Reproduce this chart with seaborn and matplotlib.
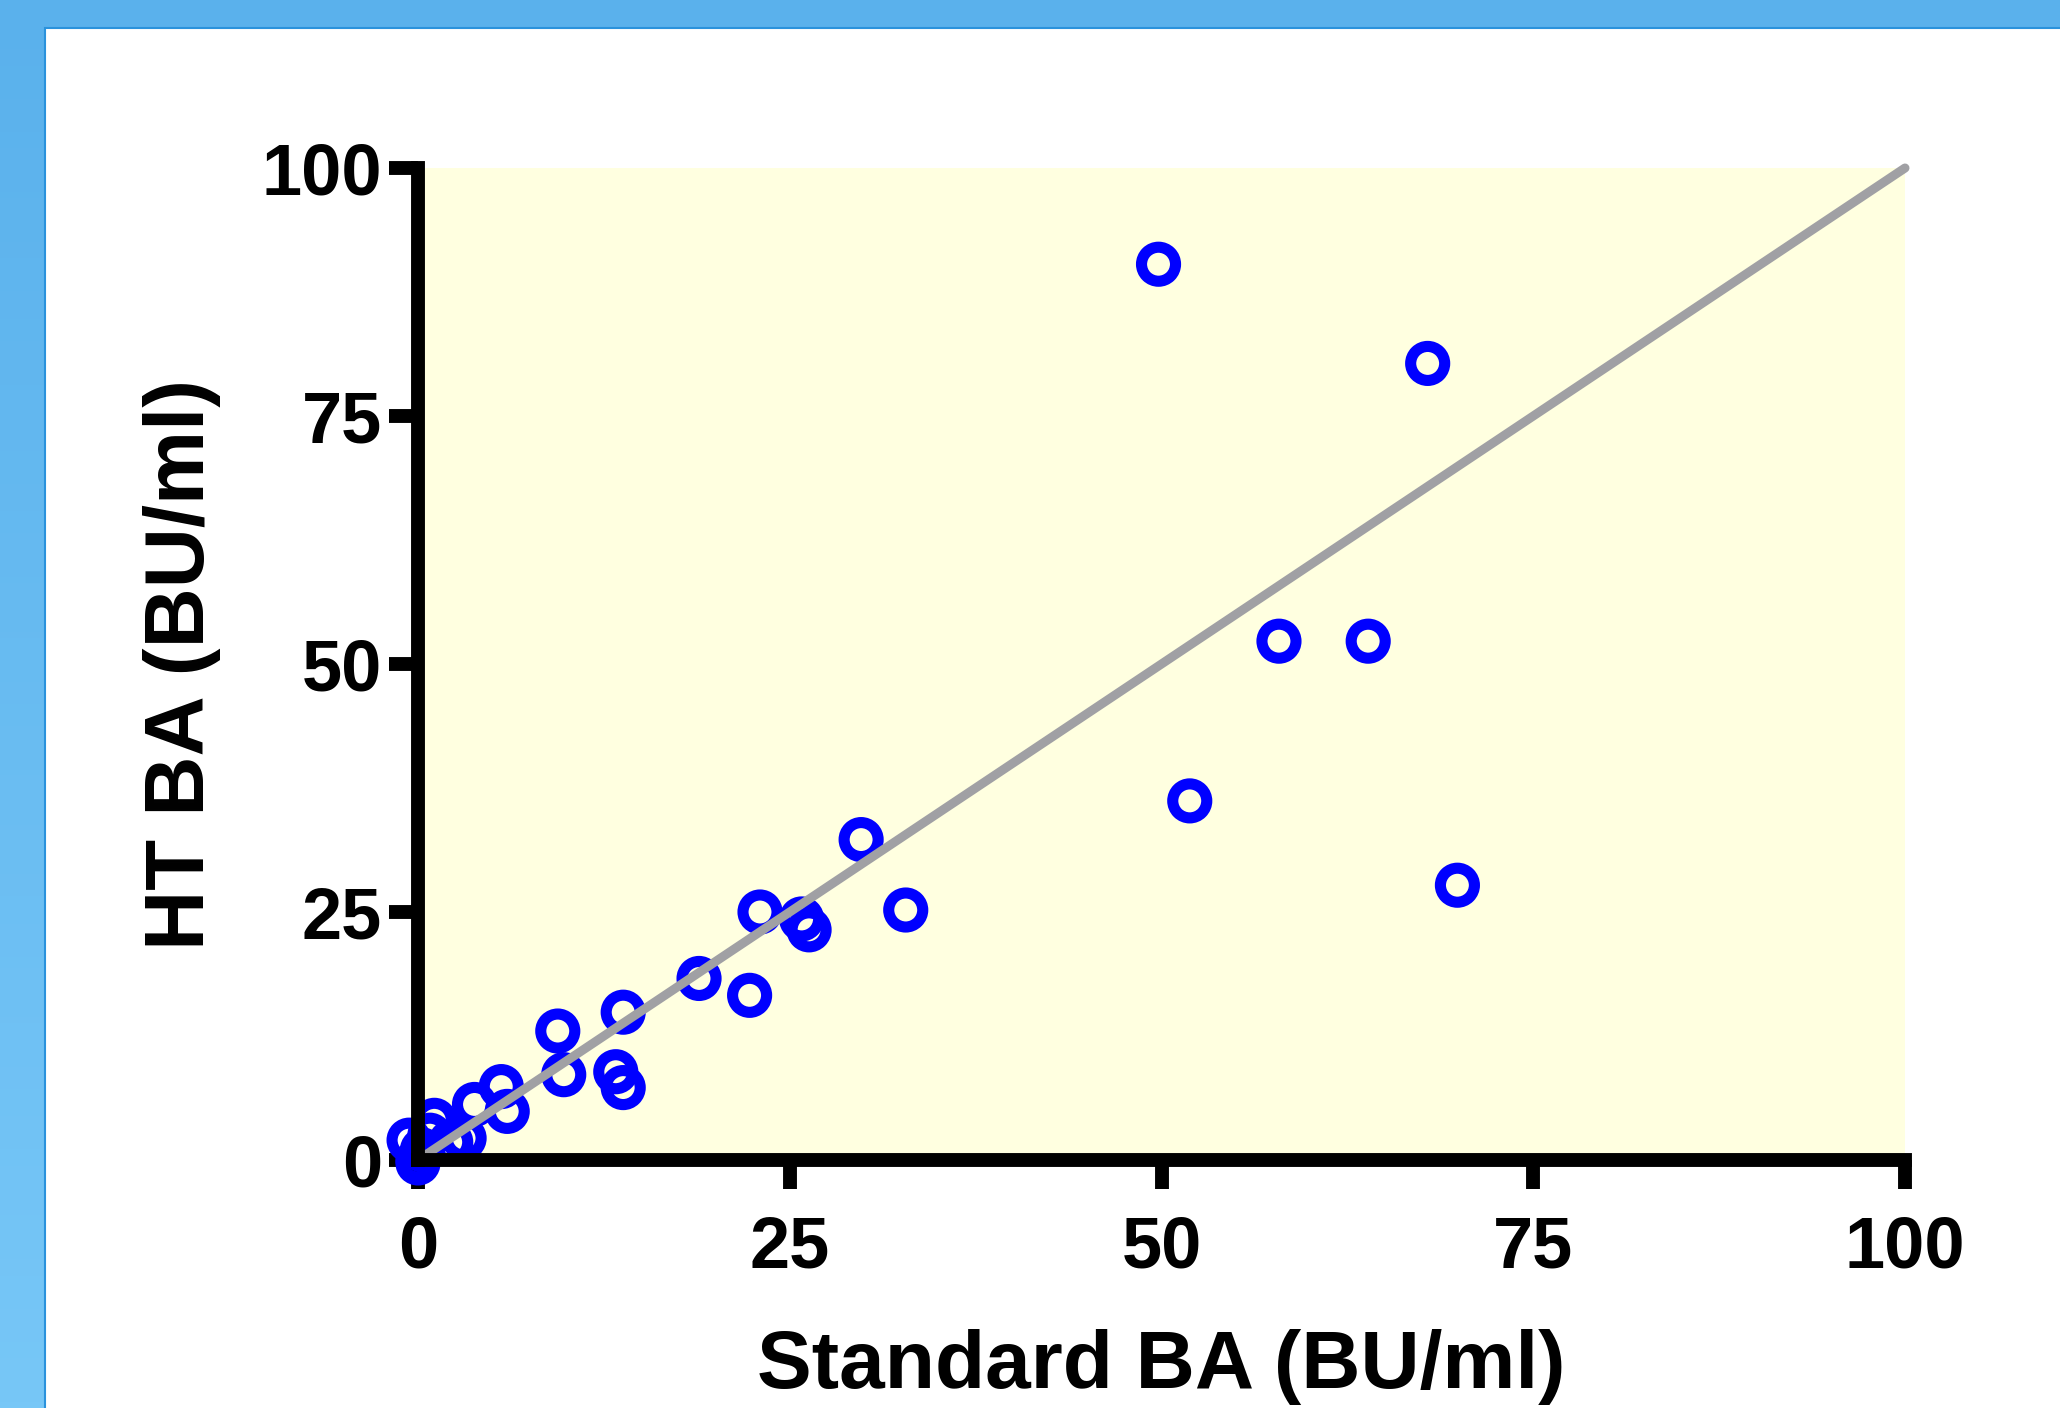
import numpy as np
import matplotlib
matplotlib.use("Agg")
import matplotlib.pyplot as plt
import matplotlib.patches as mpatches
import seaborn as sns

# standard vs HT BA
std_ba = [49.8, 67.9, 57.9, 63.9, 51.9, 69.9, 29.8, 32.8, 23.0, 25.8, 26.3,
          18.9, 22.3, 13.8, 9.4, 9.8, 13.3, 13.8, 5.6, 3.8, 6.0, 1.1, 3.1,
          2.2, -0.6, 0.0, 0.0, 0.3, 0.8]
ht_ba = [90.3, 80.3, 52.3, 52.3, 36.2, 27.7, 32.3, 25.2, 25.0, 24.3, 23.2,
         18.3, 16.6, 14.9, 13.0, 8.6, 8.9, 7.3, 7.4, 5.6, 4.9, 4.0, 2.2,
         1.8, 2.0, 0.0, -0.3, 1.0, 2.5]
line_x = [0, 100]
line_y = [0, 100]
ticks = [0, 25, 50, 75, 100]

sns.set_style("ticks")
plt.rcParams['font.family'] = ['Liberation Sans', 'DejaVu Sans']
plt.rcParams['font.weight'] = 'bold'

fig = plt.figure(figsize=(20.6, 14.08), dpi=100)

# blue frame + white panel
bg = fig.add_axes([0, 0, 1, 1], zorder=-10)
grad = np.linspace(0, 1, 256).reshape(-1, 1)
cmap = matplotlib.colors.LinearSegmentedColormap.from_list("frame", ["#5AB1EC", "#77C7F7"])
bg.imshow(grad, aspect='auto', cmap=cmap, extent=[0, 1, 0, 1], origin='upper')
bg.add_patch(mpatches.Rectangle((45 / 2060, -0.01), 1.0, 1 - 28 / 1408 + 0.01,
                                transform=bg.transAxes, facecolor='white',
                                edgecolor='#2A92DC', linewidth=1.5))
bg.set_xlim(0, 1)
bg.set_ylim(0, 1)
bg.axis('off')

ax = fig.add_axes([418 / 2060, 248 / 1408, 1487 / 2060, 992 / 1408])
ax.set_facecolor('#FFFFE0')

sns.scatterplot(x=std_ba, y=ht_ba, ax=ax, marker='o', clip_on=False, zorder=1)
pts = ax.collections[0]
pts.set_sizes([600])
pts.set_facecolor('none')
pts.set_edgecolor('#0000FF')
pts.set_linewidth(8)

sns.lineplot(x=line_x, y=line_y, ax=ax, color='#A0A0A4', linewidth=6.5,
             clip_on=False, zorder=2)

ax.set_xlim(0, 100)
ax.set_ylim(0, 100)
ax.set_xticks(ticks)
ax.set_yticks(ticks)
sns.despine(ax=ax)
for side in ['left', 'bottom']:
    ax.spines[side].set_linewidth(10)
    ax.spines[side].set_color('black')
    ax.spines[side].set_zorder(3)
ax.tick_params(axis='both', direction='out', length=21, width=10, color='black',
               labelsize=52, labelcolor='black')
ax.tick_params(axis='x', pad=18)
ax.tick_params(axis='y', pad=5)
for lab in ax.get_xticklabels() + ax.get_yticklabels():
    lab.set_fontweight('bold')

ax.set_xlabel("Standard BA (BU/ml)", fontsize=59, fontweight='bold', color='black')
ax.set_ylabel("HT BA (BU/ml)", fontsize=60, fontweight='bold', color='black')
ax.xaxis.set_label_coords(0.5, -0.170)
ax.yaxis.set_label_coords(-0.1325, 0.5)

fig.savefig("out.png", dpi=100)
